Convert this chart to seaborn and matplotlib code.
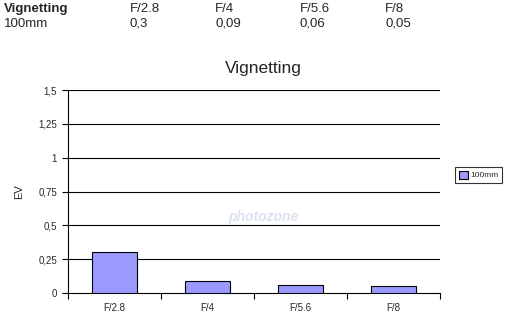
import matplotlib
matplotlib.use("Agg")
import matplotlib.pyplot as plt
import seaborn as sns
import pandas as pd
from matplotlib.ticker import FixedLocator

sns.set_style("white")
plt.rcParams['font.family'] = ['Liberation Sans', 'DejaVu Sans']

apertures = ["F/2.8", "F/4", "F/5.6", "F/8"]
vignetting_100mm = [0.3, 0.09, 0.06, 0.05]
value_labels = ["0,3", "0,09", "0,06", "0,05"]
yticks = [0, 0.25, 0.5, 0.75, 1.0, 1.25, 1.5]
ytick_labels = ["0", "0,25", "0,5", "0,75", "1", "1,25", "1,5"]
series_name = "100mm"

df = pd.DataFrame({"aperture": apertures, "ev": vignetting_100mm, "series": series_name})

W, H = 516, 330
fig = plt.figure(figsize=(W / 100, H / 100), dpi=100)
ax = fig.add_axes([68 / W, 1 - 293 / H, (440 - 68) / W, (293 - 90) / H])

# Header table
fig.text(4 / W, 1 - 9 / H, "Vignetting", fontsize=9.5, fontweight="bold", va="center", ha="left")
fig.text(4 / W, 1 - 24 / H, series_name, fontsize=9.5, va="center", ha="left")
col_x = [130, 215, 300, 385]
for cx, a, v in zip(col_x, apertures, value_labels):
    fig.text(cx / W, 1 - 9 / H, a, fontsize=9.5, va="center", ha="left")
    fig.text(cx / W, 1 - 24 / H, v, fontsize=9.5, va="center", ha="left")

# Watermark
fig.text(263 / W, 1 - 217 / H, "photozone", fontsize=10, fontstyle="italic", fontweight="bold",
         color="#dbe4ee", ha="center", va="center", zorder=0)

sns.barplot(data=df, x="aperture", y="ev", hue="series", palette=["#9999ff"], saturation=1,
            width=0.49, edgecolor="black", linewidth=0.8, ax=ax, zorder=3)

ax.set_xlim(-0.5, 3.5)
ax.set_ylim(0, 1.5)
ax.set_yticks(yticks)
ax.set_yticklabels(ytick_labels, fontsize=7)
ax.xaxis.set_major_locator(FixedLocator([0, 1, 2, 3]))
ax.set_xticklabels(apertures, fontsize=7)
ax.xaxis.set_minor_locator(FixedLocator([-0.5, 0.5, 1.5, 2.5, 3.5]))
ax.tick_params(axis="x", which="major", length=0, pad=7)
ax.tick_params(axis="x", which="minor", length=4, width=0.8, color="black", direction="out", bottom=True)
ax.tick_params(axis="y", length=4, width=0.8, color="black", direction="out", left=True, pad=4)
for y in yticks[1:]:
    ax.axhline(y, color="black", linewidth=0.8, zorder=1)
ax.set_xlabel("")
ax.set_ylabel("EV", fontsize=8, labelpad=10)
fig.text(263 / W, 1 - 69 / H, "Vignetting", fontsize=12.5, ha="center", va="center")
for s in ["top", "right"]:
    ax.spines[s].set_visible(False)
for s in ["left", "bottom"]:
    ax.spines[s].set_color("black")
    ax.spines[s].set_linewidth(0.8)
ax.patch.set_alpha(0)

leg = ax.legend(loc="center left", bbox_to_anchor=(455 / W, 1 - 175 / H), bbox_transform=fig.transFigure,
                fontsize=6, frameon=True, fancybox=False, edgecolor="black", handlelength=1.1,
                handleheight=1.1, handletextpad=0.3, borderpad=0.45, borderaxespad=0)
leg.get_frame().set_linewidth(0.8)

fig.savefig("out.png", dpi=100)
